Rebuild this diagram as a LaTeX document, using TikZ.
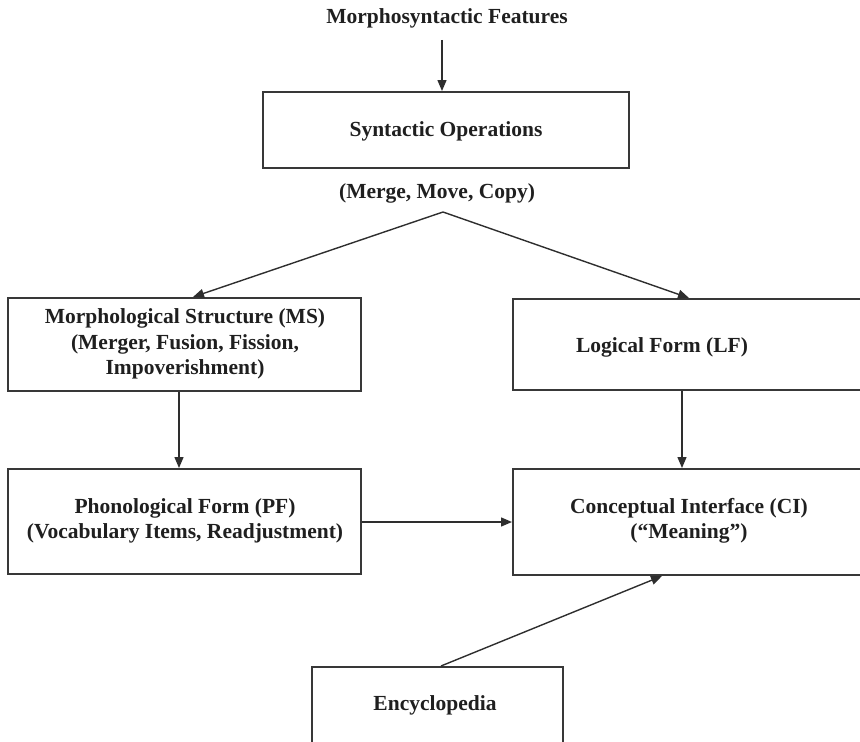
\documentclass[tikz,border=0pt]{standalone}
\usepackage{fontspec}
\setmainfont{Liberation Serif}
\usetikzlibrary{arrows.meta,calc}

\tikzset{
  box/.style={draw=black!78, line width=2pt, rectangle, inner sep=0pt},
  txt/.style={font=\fontsize{21.5}{25.5}\selectfont\bfseries, text=black!88, align=center, inner sep=0pt},
  flow/.style={draw=black!82, line width=1.4pt, -{Triangle[length=11pt,width=9pt]}}
}

\begin{document}
\begin{tikzpicture}[x=1pt,y=-1pt]
  \useasboundingbox (0,0) rectangle (860,742);
  \clip (0,0) rectangle (860,742);

  % top label and the syntax box
  \node[txt] (mf) at (447,18) {Morphosyntactic Features};
  \node[box, minimum width=366pt, minimum height=76pt] (so) at (446,130) {};
  \node[txt] (sot) at (446,131) {Syntactic Operations};
  \node[txt] (mmc) at (437,193) {(Merge, Move, Copy)};
  \coordinate (apex) at (443,212);

  % the two branches
  \node[box, minimum width=353pt, minimum height=93pt] (ms) at (184.5,344.5) {};
  \node[txt] (mst) at (185,344) {Morphological Structure (MS)\\(Merger, Fusion, Fission,\\Impoverishment)};
  \node[box, minimum width=353pt, minimum height=91pt] (lf) at (689.5,344.5) {};
  \node[txt] (lft) at (662,347) {Logical Form (LF)};

  \node[box, minimum width=353pt, minimum height=105pt] (pf) at (184.5,521.5) {};
  \node[txt] (pft) at (185,521) {Phonological Form (PF)\\(Vocabulary Items, Readjustment)};
  \node[box, minimum width=353pt, minimum height=106pt] (ci) at (689.5,522) {};
  \node[txt] (cit) at (689,521) {Conceptual Interface (CI)\\(“Meaning”)};

  \node[box, minimum width=251pt, minimum height=110pt] (enc) at (437.5,722) {};
  \node[txt] (enct) at (435,705) {Encyclopedia};

  % connectors
  \draw[flow] (mf.south -| 442,0) ++(0,12) -- (so.north -| 442,0);
  \draw[flow] (apex) -- ($(ms.north west)+(186,0)$);
  \draw[flow] (apex) -- ($(lf.north west)+(177,0)$);
  \draw[flow] ($(ms.south west)+(172,0)$) -- ($(pf.north west)+(172,0)$);
  \draw[flow] ($(lf.south west)+(170,0)$) -- ($(ci.north west)+(170,0)$);
  \draw[flow] (pf.east |- 0,522) -- (ci.west |- 0,522);
  \draw[flow] ($(enc.north west)+(130,0)$) -- ($(ci.south west)+(150,0)$);
\end{tikzpicture}
\end{document}
